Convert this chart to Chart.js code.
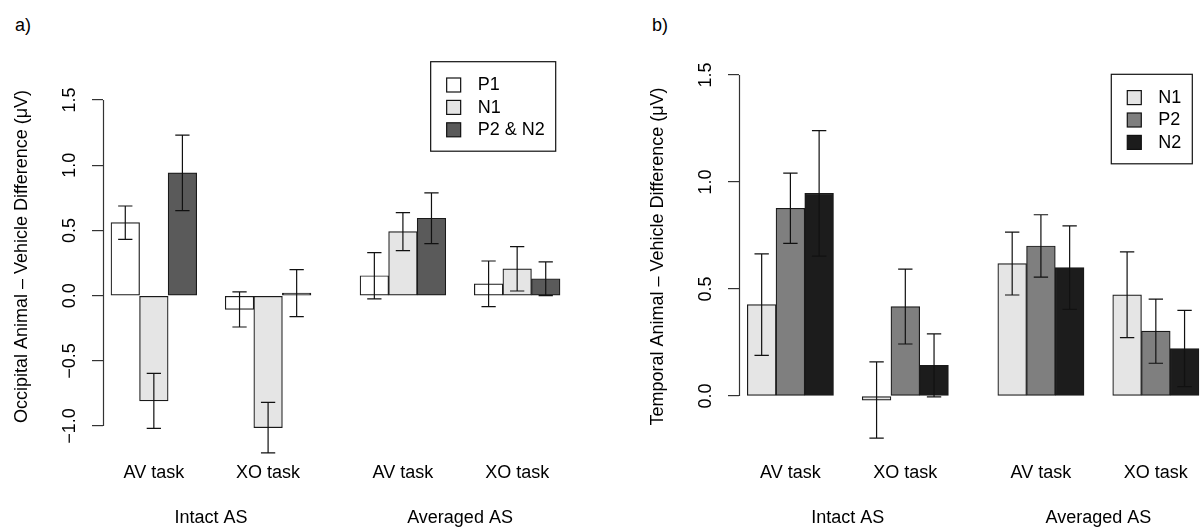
<!DOCTYPE html>
<html>
<head>
<meta charset="utf-8">
<script src="https://cdn.jsdelivr.net/npm/chart.js@4.4.0/dist/chart.umd.min.js"></script>
<style>
  body { margin: 0; background: #fff; width: 1202px; height: 529px; position: relative; overflow: hidden; font-family: "Liberation Sans", Arial, Helvetica, sans-serif; }
  .panel { position: absolute; top: 0; }
  .panel canvas { display: block; }
  .tag { position: absolute; top: 16px; font-size: 18px; line-height: 18px; color: #000; }
</style>
</head>
<body>
<div class="tag" style="left:15px">a)</div>
<div class="tag" style="left:652px">b)</div>
<div class="panel" style="left:0"><canvas id="chartA" width="601" height="529"></canvas></div>
<div class="panel" style="left:636px"><canvas id="chartB" width="566" height="529"></canvas></div>
<script>
// categories
const taskLabels = ['AV task', 'XO task', 'AV task', 'XO task'];
const setLabels = ['Intact AS', 'Averaged AS'];
const groupGaps = [1, 1, 1.72, 1];

// tick labels
const occTicks = [-1.0, -0.5, 0.0, 0.5, 1.0, 1.5];
const tmpTicks = [0.0, 0.5, 1.0, 1.5];

// a) occipital
const occP1 = [0.56, -0.105, 0.153, 0.091];
const occP1Err = [0.128, 0.135, 0.177, 0.175];
const occN1 = [-0.806, -1.012, 0.491, 0.206];
const occN1Err = [0.211, 0.194, 0.146, 0.17];
const occP2N2 = [0.942, 0.02, 0.594, 0.13];
const occP2N2Err = [0.29, 0.18, 0.194, 0.13];

// b) temporal
const tmpN1 = [0.427, -0.019, 0.619, 0.473];
const tmpN1Err = [0.237, 0.178, 0.147, 0.2];
const tmpP2 = [0.877, 0.418, 0.701, 0.303];
const tmpP2Err = [0.164, 0.175, 0.146, 0.15];
const tmpN2 = [0.947, 0.143, 0.6, 0.222];
const tmpN2Err = [0.293, 0.147, 0.195, 0.178];

const FONT = '"Liberation Sans", Arial, Helvetica, sans-serif';
Chart.defaults.font.family = FONT;
Chart.defaults.font.size = 18;
Chart.defaults.color = '#000';

function groupStarts(gaps, perGroup) {
    let pos = 0;
    return gaps.map(g => {
        pos += g;
        const s = pos;
        pos += perGroup;
        return s;
    });
}

const starts = groupStarts(groupGaps, 3);
const taskCenters = starts.map(s => s + 1.5);
const setCenters = [(starts[0] + starts[1] + 3) / 2, (starts[2] + starts[3] + 3) / 2];

function fmtTick(v) {
    return (v < 0 ? '\u2212' : '') + Math.abs(v).toFixed(1);
}

function barSeries(label, values, errors, color, k) {
    return {
        label: label,
        errors: errors,
        data: values.map((v, g) => ({ x: starts[g] + k + 0.5, y: v })),
        backgroundColor: color,
        borderColor: '#1a1a1a',
        borderWidth: 1.2,
        borderSkipped: false,
        grouped: false,
        barPercentage: 1,
        categoryPercentage: 1,
        clip: false
    };
}

const errorBars = {
    id: 'errorBars',
    afterDatasetsDraw(chart) {
        const ctx = chart.ctx, y = chart.scales.y;
        ctx.save();
        ctx.strokeStyle = '#111';
        ctx.lineWidth = 1.2;
        chart.data.datasets.forEach((ds, i) => {
            chart.getDatasetMeta(i).data.forEach((bar, j) => {
                const v = ds.data[j].y, e = ds.errors[j];
                const top = y.getPixelForValue(v + e), bot = y.getPixelForValue(v - e);
                const cap = bar.width / 4;
                ctx.beginPath();
                ctx.moveTo(bar.x, top); ctx.lineTo(bar.x, bot);
                ctx.moveTo(bar.x - cap, top); ctx.lineTo(bar.x + cap, top);
                ctx.moveTo(bar.x - cap, bot); ctx.lineTo(bar.x + cap, bot);
                ctx.stroke();
            });
        });
        ctx.restore();
    }
};

// R style axis: the line only runs between the outer ticks
const axisLine = {
    id: 'axisLine',
    afterDraw(chart) {
        const ctx = chart.ctx, y = chart.scales.y, ticks = y.ticks;
        const x = Math.round(chart.chartArea.left) + 0.5;
        ctx.save();
        ctx.strokeStyle = '#333';
        ctx.lineWidth = 1.2;
        ctx.beginPath();
        ctx.moveTo(x, y.getPixelForValue(ticks[0].value));
        ctx.lineTo(x, y.getPixelForValue(ticks[ticks.length - 1].value));
        ctx.stroke();
        ctx.restore();
    }
};

const boxLegend = {
    id: 'boxLegend',
    afterDraw(chart, args, opts) {
        const ctx = chart.ctx, dsets = chart.data.datasets;
        ctx.save();
        ctx.font = '18px ' + FONT;
        const textW = Math.max(...dsets.map(d => ctx.measureText(d.label).width));
        const w = 47 + textW + 11, h = 89.5;
        const left = opts.right - w, top = opts.top;
        ctx.strokeStyle = '#111';
        ctx.lineWidth = 1.2;
        ctx.strokeRect(left, top, w, h);
        dsets.forEach((d, i) => {
            const cy = top + 23.3 + i * 22.4;
            ctx.fillStyle = d.backgroundColor;
            ctx.fillRect(left + 16, cy - 7, 14, 14);
            ctx.strokeRect(left + 16, cy - 7, 14, 14);
            ctx.fillStyle = '#000';
            ctx.textBaseline = 'middle';
            ctx.textAlign = 'left';
            ctx.fillText(d.label, left + 47, cy + 0.5);
        });
        ctx.restore();
    }
};

function makePanel(canvas, datasets, p) {
    return new Chart(canvas, {
        type: 'bar',
        data: { datasets: datasets },
        plugins: [errorBars, axisLine, boxLegend],
        options: {
            responsive: false,
            animation: false,
            events: [],
            layout: { autoPadding: false, padding: { top: 60, right: p.padRight, left: 0, bottom: 0 } },
            plugins: {
                legend: { display: false },
                tooltip: { enabled: false },
                boxLegend: { right: p.legendRight, top: p.legendTop }
            },
            scales: {
                x: {
                    type: 'linear', position: 'bottom', min: p.xMin, max: p.xMax, offset: false, weight: 0,
                    grid: { display: false, drawTicks: false }, border: { display: false },
                    afterBuildTicks: s => { s.ticks = taskCenters.map(v => ({ value: v })); },
                    afterFit: s => { s.height = 40; },
                    ticks: { autoSkip: false, maxRotation: 0, padding: 9, callback: (v, i) => taskLabels[i] }
                },
                x2: {
                    type: 'linear', position: 'bottom', min: p.xMin, max: p.xMax, offset: false, weight: 1,
                    grid: { display: false, drawTicks: false }, border: { display: false },
                    afterBuildTicks: s => { s.ticks = setCenters.map(v => ({ value: v })); },
                    afterFit: s => { s.height = 36; },
                    ticks: { autoSkip: false, maxRotation: 0, padding: 14.4, callback: (v, i) => setLabels[i] }
                },
                y: {
                    min: p.yMin, max: p.yMax,
                    afterBuildTicks: s => { s.ticks = p.yTicks.map(v => ({ value: v })); },
                    afterFit: s => { s.width = 103; },
                    border: { display: false },
                    grid: { drawOnChartArea: false, drawTicks: true, tickLength: 11, color: '#333', lineWidth: 1.2 },
                    ticks: { minRotation: 90, maxRotation: 90, crossAlign: 'center', padding: p.tickPad, callback: fmtTick },
                    title: { display: true, text: p.title, padding: { top: 11, bottom: 0 } }
                }
            }
        }
    });
}

makePanel(document.getElementById('chartA'), [
    barSeries('P1', occP1, occP1Err, '#ffffff', 0),
    barSeries('N1', occN1, occN1Err, '#e5e5e5', 1),
    barSeries('P2 & N2', occP2N2, occP2N2Err, '#5a5a5a', 2)
], {
    title: 'Occipital Animal \u2013 Vehicle Difference (\u03bcV)',
    yTicks: occTicks, yMin: -1.2063, yMax: 1.8075,
    xMin: 0.72, xMax: 17.42, padRight: 21,
    tickPad: 4, legendRight: 555.7, legendTop: 61.7
});

makePanel(document.getElementById('chartB'), [
    barSeries('N1', tmpN1, tmpN1Err, '#e5e5e5', 0),
    barSeries('P2', tmpP2, tmpP2Err, '#7f7f7f', 1),
    barSeries('N2', tmpN2, tmpN2Err, '#1c1c1c', 2)
], {
    title: 'Temporal Animal \u2013 Vehicle Difference (\u03bcV)',
    yTicks: tmpTicks, yMin: -0.2664, yMax: 1.570,
    xMin: 0.711, xMax: 16.827, padRight: 0,
    tickPad: 9.5, legendRight: 556.3, legendTop: 74.3
});
</script>
</body>
</html>
